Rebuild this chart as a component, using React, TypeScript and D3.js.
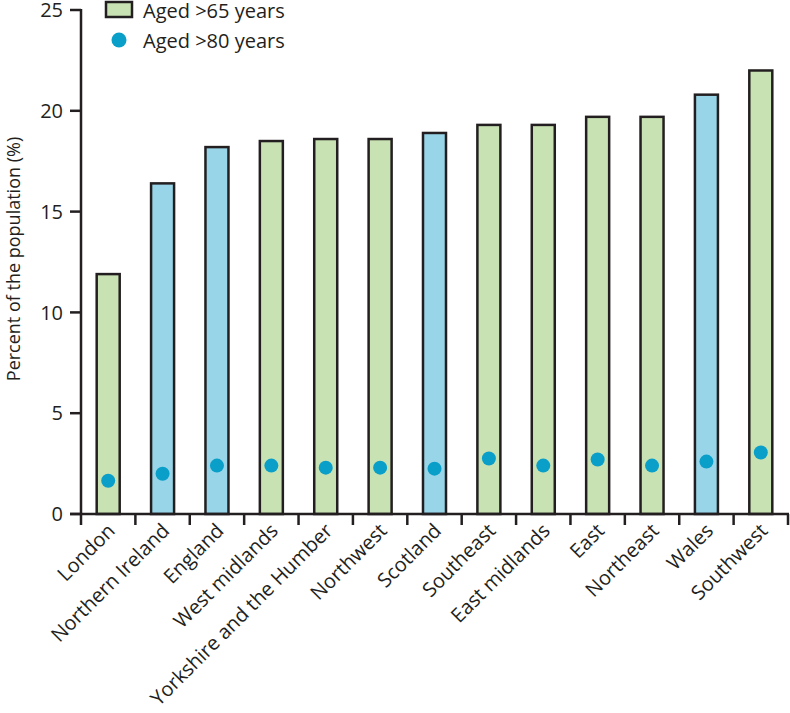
import React from "react";
import * as d3 from "d3";

const regions = ["London","Northern Ireland","England","West midlands","Yorkshire and the Humber","Northwest","Scotland","Southeast","East midlands","East","Northeast","Wales","Southwest"];
const aged65 = [11.9,16.4,18.2,18.5,18.6,18.6,18.9,19.3,19.3,19.7,19.7,20.8,22.0];
const aged80 = [1.65,2.0,2.4,2.4,2.3,2.3,2.25,2.75,2.4,2.7,2.4,2.6,3.05];
const isNation = [false,true,true,false,false,false,true,false,false,false,false,true,false];
const yTicks = [0,5,10,15,20,25];

const W = 790, H = 713;
const left = 81, right = 788, top = 10, bottom = 514;
const FONT = "'Open Sans', sans-serif";

export default function App() {
  const x = d3.scaleBand<string>().domain(regions).range([left, right]).paddingInner(0).paddingOuter(0);
  const y = d3.scaleLinear().domain([0, 25]).range([bottom, top]);
  const bw = 23;
  const green = "#c9e2b3", blue = "#98d5e8", dot = "#0a9fc9", ink = "#231f20";
  return (
    <svg width={W} height={H} style={{ position: "absolute", left: 0, top: 0, background: "#fff" }}>
      {regions.map((r, i) => {
        const cx = (x(r) as number) + x.bandwidth() / 2;
        return (
          <g key={r}>
            <rect x={cx - bw / 2} y={y(aged65[i])} width={bw} height={bottom - y(aged65[i])}
              fill={isNation[i] ? blue : green} stroke={ink} strokeWidth={2.5} />
            <circle cx={cx} cy={y(aged80[i])} r={7} fill={dot} />
            <text transform={`translate(${cx + 8},${bottom + 18}) rotate(-45)`} textAnchor="end"
              fontFamily={FONT} fontSize={20} fill={ink}>{r}</text>
          </g>
        );
      })}
      {/* y axis */}
      <line x1={left} x2={left} y1={top - 1} y2={bottom} stroke={ink} strokeWidth={2.5} />
      {yTicks.map(t => (
        <g key={t}>
          <line x1={left - 11} x2={left} y1={y(t)} y2={y(t)} stroke={ink} strokeWidth={2.5} />
          <text x={left - 18} y={y(t)} dy="0.36em" textAnchor="end" fontFamily={FONT} fontSize={20} fill={ink}>{t}</text>
        </g>
      ))}
      {/* x axis */}
      <line x1={left - 11} x2={right + 1} y1={bottom} y2={bottom} stroke={ink} strokeWidth={2.5} />
      {[...regions.map(r => x(r) as number), right].map((v, i) => (
        <line key={i} x1={v} x2={v} y1={bottom} y2={bottom + 11} stroke={ink} strokeWidth={2.5} />
      ))}
      <text transform={`translate(20,259) rotate(-90)`} textAnchor="middle"
        fontFamily={FONT} fontSize={18} fill={ink}>Percent of the population (%)</text>
      {/* legend */}
      <rect x={106} y={2} width={26} height={15} fill={green} stroke={ink} strokeWidth={2.5} />
      <text x={143} y={18} fontFamily={FONT} fontSize={20} fill={ink}>Aged &gt;65 years</text>
      <circle cx={119} cy={40} r={7.5} fill={dot} />
      <text x={143} y={48} fontFamily={FONT} fontSize={20} fill={ink}>Aged &gt;80 years</text>
    </svg>
  );
}
